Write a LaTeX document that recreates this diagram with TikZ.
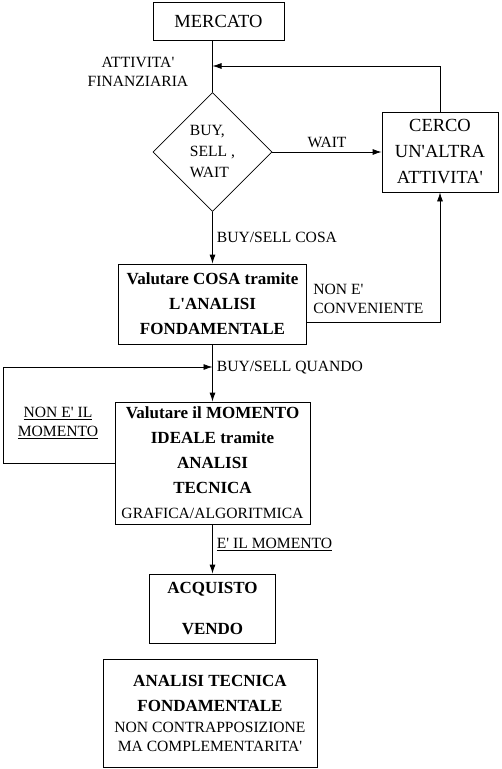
\documentclass[tikz,border=0pt]{standalone}
\usepackage{fontspec}
\setmainfont{Liberation Serif}[Ligatures=TeXOff]
\usetikzlibrary{shapes.geometric,arrows.meta}

\newcommand{\sm}{\normalfont\fontsize{15.6}{19}\selectfont}
\newcommand{\bg}{\normalfont\fontsize{17}{25}\selectfont\bfseries}
\newcommand{\rg}{\normalfont\fontsize{18.5}{26}\selectfont}

\tikzset{
  box/.style={draw, inner sep=0pt, align=center},
  lbl/.style={font=\sm, inner sep=4pt},
  arr/.style={-{Latex[length=9pt,width=6pt]}},
}

\begin{document}
\begin{tikzpicture}[x=1pt, y=-1pt, line width=0.8pt]
    \useasboundingbox (0,0) rectangle (502,769);

    \node[box, minimum width=131pt, minimum height=38pt, font=\rg] (MERC) at (218.5,21) {MERCATO};
    \node[draw, diamond, minimum width=119pt, minimum height=119pt, inner sep=0pt, align=left, font=\sm] (DEC) at (212.5,152) {BUY,\\[2pt]SELL ,\\[2pt]WAIT};
    \node[box, minimum width=116pt, minimum height=80pt, font=\rg] (CERCO) at (440,152) {CERCO\\UN'ALTRA\\ATTIVITA'};
    \node[box, minimum width=188pt, minimum height=80pt, font=\bg] (COSA) at (212.5,304) {Valutare COSA tramite\\L'ANALISI\\FONDAMENTALE};
    \node[box, minimum width=195pt, minimum height=122pt, font=\bg] (MOM) at (212.5,463) {Valutare il MOMENTO\\IDEALE tramite\\ANALISI\\TECNICA\\{\sm GRAFICA/ALGORITMICA}};
    \node[box, minimum width=126pt, minimum height=69pt, font=\bg] (ACQ) at (212.5,608.5) {ACQUISTO\\[16pt]VENDO};
    \node[box, minimum width=214pt, minimum height=108pt, font=\bg] (ANAL) at (210,713) {ANALISI TECNICA\\FONDAMENTALE\\[-4pt]{\sm NON CONTRAPPOSIZIONE}\\[-6pt]{\sm MA COMPLEMENTARITA'}};

    \node[lbl, align=center] (ATT) at (138,72) {ATTIVITA'\\FINANZIARIA};
    \node[lbl, anchor=west, align=left] (NCONV) at (309,299) {NON E'\\CONVENIENTE};
    \node[lbl, align=center] (NMOM) at (58,423) {\underline{NON E' IL}\\\underline{MOMENTO}};

    \coordinate (JOIN) at (212.5,66);
    \coordinate (LOOP) at (3,367);
    \coordinate (QD) at (212.5,367);

    \draw (MERC.south -| DEC.north) -- (DEC.north);
    \draw[arr] (CERCO.north) |- (JOIN);
    \draw[arr] (DEC.east) -- (CERCO.west) node[midway, above, lbl] {WAIT};
    \draw[arr] (DEC.south) -- (COSA.north) node[midway, right, lbl] {BUY/SELL COSA};
    \draw[arr] ([yshift=-18pt]COSA.east) -| (CERCO.south);
    \draw[arr] (COSA.south) -- (MOM.north) node[pos=0.4, right, lbl] {BUY/SELL QUANDO};
    \draw[arr] (MOM.west) -| (LOOP) -- (QD);
    \draw[arr] (MOM.south) -- (ACQ.north) node[pos=0.4, right, lbl] {\underline{E' IL MOMENTO}};
\end{tikzpicture}
\end{document}
